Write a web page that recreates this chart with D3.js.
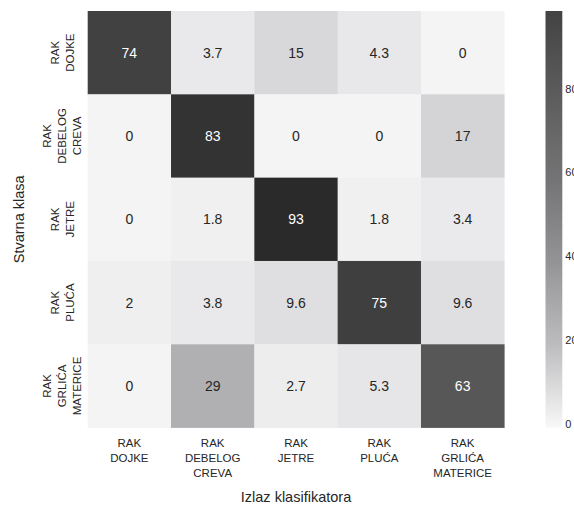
<!DOCTYPE html>
<html><head><meta charset="utf-8">
<script src="https://cdn.jsdelivr.net/npm/d3@7"></script>
<style>body{margin:0;background:#fff}svg{display:block}text{font-family:"Liberation Sans",Arial,sans-serif}</style>
</head><body><svg id="c" width="574" height="506"></svg>
<script>
const rowLabels = [["RAK","DOJKE"],["RAK","DEBELOG","CREVA"],["RAK","JETRE"],["RAK","PLUĆA"],["RAK","GRLIĆA","MATERICE"]];
const colLabels = [["RAK","DOJKE"],["RAK","DEBELOG","CREVA"],["RAK","JETRE"],["RAK","PLUĆA"],["RAK","GRLIĆA","MATERICE"]];
const rowDojke = [74, 3.7, 15, 4.3, 0];
const rowDebelo = [0, 83, 0, 0, 17];
const rowJetre = [0, 1.8, 93, 1.8, 3.4];
const rowPluca = [2, 3.8, 9.6, 75, 9.6];
const rowGrlic = [0, 29, 2.7, 5.3, 63];
const matrix = [rowDojke, rowDebelo, rowJetre, rowPluca, rowGrlic];
const cbarTicks = [0, 20, 40, 60, 80];
const xTitle = "Izlaz klasifikatora";
const yTitle = "Stvarna klasa";

const svg = d3.select("#c");
const L = 87.7, T = 11, W = 416.6, H = 416.6;
const idx = d3.range(5);
const x = d3.scaleBand().domain(idx).range([L, L + W]);
const y = d3.scaleBand().domain(idx).range([T, T + H]);
const color = d3.scaleLinear()
  .domain([0, 2, 4, 10, 15, 17, 29, 63, 75, 83, 93])
  .range(["#f4f4f4","#efefef","#e8e8ea","#dedee0","#d8d8da","#d4d4d6","#b0b0b2","#575757","#3f3f3f","#333333","#2a2a2a"]);

const cells = [];
matrix.forEach((r, i) => r.forEach((v, j) => cells.push({i, j, v})));
svg.append("g").selectAll("rect").data(cells).join("rect")
  .attr("x", d => x(d.j)).attr("y", d => y(d.i))
  .attr("width", x.bandwidth() + 0.3).attr("height", y.bandwidth() + 0.3)
  .attr("fill", d => color(d.v));
svg.append("g").selectAll("text").data(cells).join("text")
  .attr("x", d => x(d.j) + x.bandwidth() / 2).attr("y", d => y(d.i) + y.bandwidth() / 2)
  .attr("dy", "0.36em").attr("text-anchor", "middle")
  .attr("font-size", 14)
  .attr("fill", d => d.v > 50 ? "#ffffff" : "#262626")
  .text(d => String(d.v));

// x tick labels
const lh = 15;
colLabels.forEach((lines, j) => {
  const t = svg.append("text").attr("text-anchor", "middle").attr("font-size", 11.5).attr("fill", "#262626");
  lines.forEach((s, k) => t.append("tspan").attr("x", x(j) + x.bandwidth() / 2).attr("y", 447 + k * lh).text(s));
});
// y tick labels (rotated)
rowLabels.forEach((lines, i) => {
  const cy = y(i) + y.bandwidth() / 2;
  const n = lines.length;
  const t = svg.append("text").attr("text-anchor", "middle").attr("font-size", 11.5).attr("fill", "#262626")
    .attr("transform", `translate(${62},${cy}) rotate(-90)`);
  lines.forEach((s, k) => t.append("tspan").attr("x", 0).attr("y", (k - (n - 1) / 2) * lh).attr("dy", "0.36em").text(s));
});
// axis titles
svg.append("text").attr("x", L + W / 2).attr("y", 502).attr("text-anchor", "middle")
  .attr("font-size", 14.5).attr("fill", "#262626").text(xTitle);
svg.append("text").attr("transform", `translate(19,${T + H / 2}) rotate(-90)`).attr("dy", "0.36em")
  .attr("text-anchor", "middle").attr("font-size", 14.5).attr("fill", "#262626").text(yTitle);

// colorbar
const cbX = 545.5, cbW = 16.8;
const cb = d3.scaleLinear().domain([0, 99.5]).range([T + H, T]);
const cbColor = d3.scaleLinear().domain([0, 20, 40, 60, 80, 99.5])
  .range(["#f8f8f8","#bcbcbe","#939396","#737375","#5c5c5c","#434343"]);
const defs = svg.append("defs");
const grad = defs.append("linearGradient").attr("id", "cbg").attr("x1", 0).attr("x2", 0).attr("y1", 1).attr("y2", 0);
d3.range(0, 101, 5).forEach(p => grad.append("stop").attr("offset", p + "%").attr("stop-color", cbColor(p / 100 * 99.5)));
svg.append("rect").attr("x", cbX).attr("y", T).attr("width", cbW).attr("height", H).attr("fill", "url(#cbg)");
const cbAxis = d3.axisRight(cb).tickValues(cbarTicks).tickSize(0).tickPadding(3);
const ga = svg.append("g").attr("transform", `translate(${cbX + cbW},0)`).call(cbAxis);
ga.select(".domain").remove();
ga.selectAll("text").attr("font-size", 11).attr("fill", "#262626").attr("dy", "-0.05em");
</script></body></html>
